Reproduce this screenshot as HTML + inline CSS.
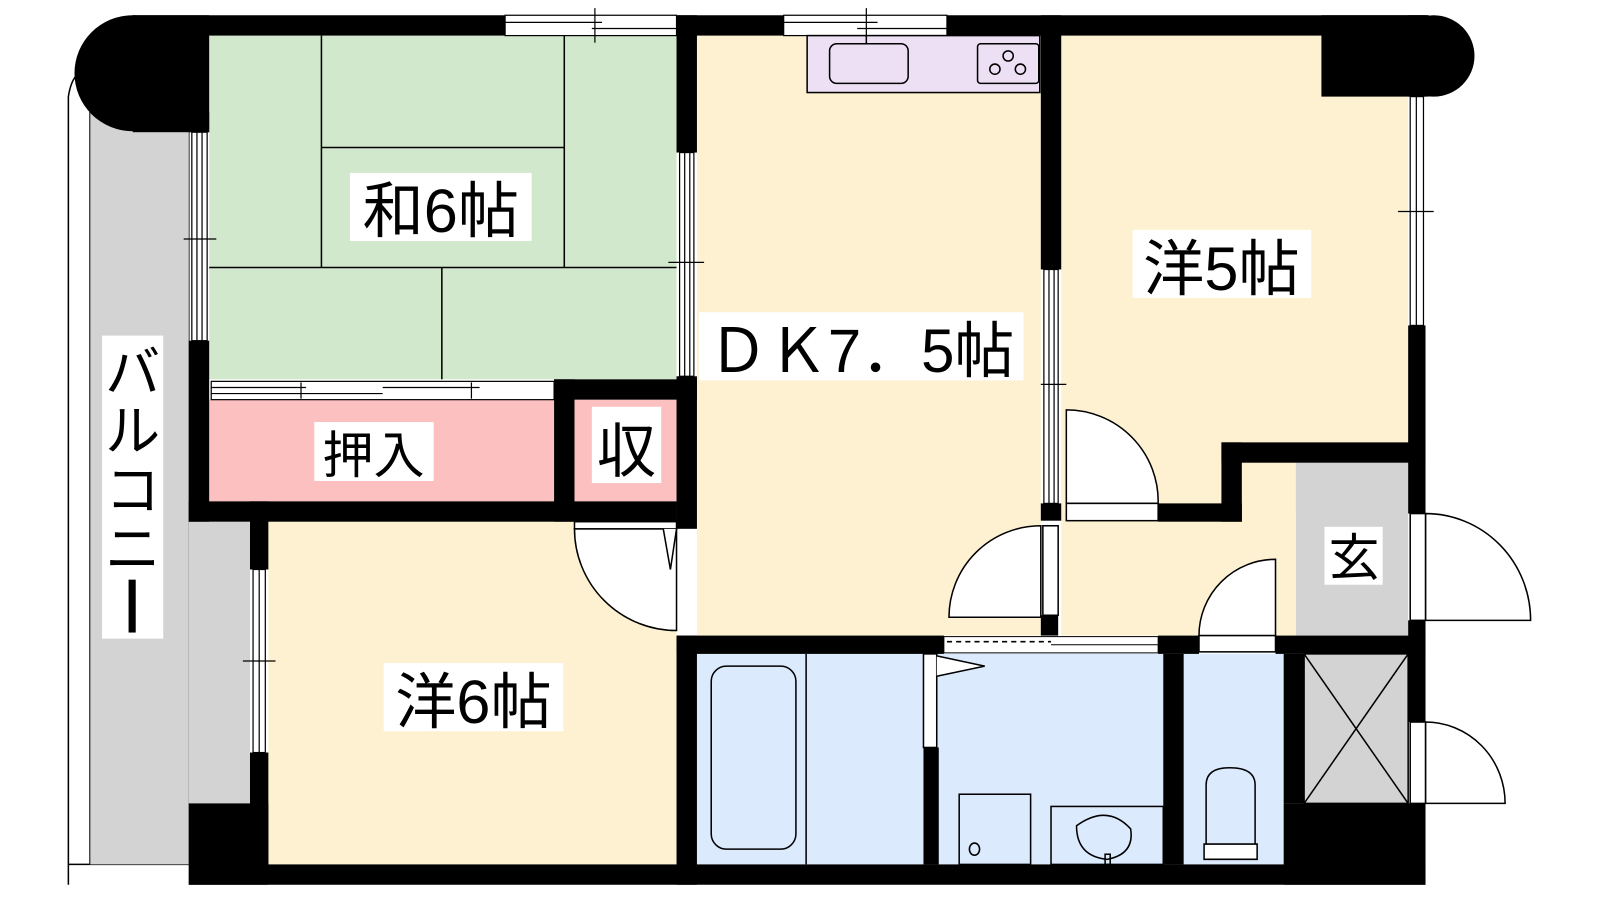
<!DOCTYPE html>
<html><head><meta charset="utf-8"><style>
html,body{margin:0;padding:0;background:#fff;width:1600px;height:900px;overflow:hidden}
svg{display:block}
text{font-family:"Liberation Sans","Noto Sans CJK JP",sans-serif;fill:#000}
</style></head><body>
<svg width="1600" height="900" viewBox="0 0 1568 885" preserveAspectRatio="none" xmlns="http://www.w3.org/2000/svg">
<g stroke="none">
<!-- balcony -->
<path d="M67,870 L67,95 Q70,75 80,70 L185,70 L185,850 L67,850 Z" fill="#fff" stroke="#000" stroke-width="1.5"/>
<rect x="88" y="110" width="97" height="740" fill="#d3d3d3"/>
<rect x="185" y="513" width="60" height="277" fill="#d3d3d3"/>
<line x1="88" y1="110" x2="88" y2="850" stroke="#000" stroke-width="1"/>
<!-- rooms -->
<rect x="205" y="35" width="458" height="338" fill="#d2e8cc"/>
<rect x="205" y="393" width="338" height="100" fill="#fdc0c0"/>
<rect x="563" y="393" width="100" height="100" fill="#fdc0c0"/>
<rect x="263" y="513" width="400" height="337" fill="#fdf1d1"/>
<rect x="683" y="35" width="337" height="590" fill="#fdf1d1"/>
<rect x="1040" y="35" width="340" height="470" fill="#fdf1d1"/>
<rect x="1040" y="455" width="230" height="170" fill="#fdf1d1"/>
<rect x="1270" y="455" width="110" height="170" fill="#d3d3d3"/>
<rect x="683" y="643" width="222" height="207" fill="#dbeafd"/>
<rect x="905" y="643" width="235" height="207" fill="#dbeafd"/>
<rect x="1160" y="643" width="98" height="207" fill="#dbeafd"/>
<rect x="1278" y="643" width="102" height="147" fill="#d3d3d3"/>
</g>
<!-- tatami lines -->
<g stroke="#000" stroke-width="1.5" fill="none">
<line x1="315" y1="35" x2="315" y2="263"/><line x1="553" y1="35" x2="553" y2="263"/>
<line x1="315" y1="145" x2="553" y2="145"/><line x1="205" y1="263" x2="663" y2="263"/>
<line x1="433" y1="263" x2="433" y2="373"/>
</g>
<!-- walls -->
<g fill="#000">
<circle cx="130" cy="72" r="57"/>
<rect x="130" y="15" width="365" height="20"/>
<rect x="130" y="15" width="75" height="115"/>
<rect x="663" y="15" width="105" height="20"/>
<rect x="928" y="15" width="472" height="20"/>
<circle cx="1405" cy="55" r="40"/>
<rect x="1295" y="15" width="105" height="80"/>
<rect x="185" y="110" width="20" height="20"/>
<rect x="185" y="335" width="20" height="178"/>
<rect x="663" y="15" width="20" height="135"/>
<rect x="543" y="373" width="140" height="20"/>
<rect x="543" y="373" width="20" height="140"/>
<rect x="663" y="370" width="20" height="150"/>
<rect x="185" y="493" width="478" height="20"/>
<rect x="245" y="493" width="18" height="67"/>
<rect x="245" y="740" width="18" height="110"/>
<rect x="185" y="790" width="78" height="80"/>
<rect x="185" y="850" width="1212" height="20"/>
<rect x="1020" y="15" width="20" height="250"/>
<rect x="1020" y="495" width="20" height="17"/>
<rect x="1020" y="605" width="17" height="20"/>
<rect x="1135" y="495" width="82" height="18"/>
<rect x="1197" y="435" width="20" height="78"/>
<rect x="1197" y="435" width="200" height="20"/>
<rect x="1380" y="15" width="17" height="80"/>
<rect x="1380" y="320" width="17" height="185"/>
<rect x="1380" y="610" width="17" height="100"/>
<rect x="1258" y="790" width="139" height="80"/>
<rect x="663" y="625" width="262" height="18"/>
<rect x="1135" y="625" width="40" height="18"/>
<rect x="1250" y="625" width="147" height="18"/>
<rect x="663" y="625" width="20" height="245"/>
<rect x="905" y="735" width="15" height="115"/>
<rect x="1140" y="643" width="20" height="207"/>
<rect x="1258" y="643" width="20" height="147"/>
</g>
<!-- windows -->
<g fill="#fff" stroke="#000" stroke-width="1.2">
<rect x="495" y="15" width="168" height="20"/><line x1="495" y1="22" x2="590" y2="22"/><line x1="580" y1="28" x2="663" y2="28"/><line x1="583" y1="8" x2="583" y2="42"/>
<rect x="768" y="15" width="160" height="20"/><line x1="768" y1="22" x2="860" y2="22"/><line x1="840" y1="28" x2="928" y2="28"/><line x1="849" y1="8" x2="849" y2="42"/>
<rect x="188" y="130" width="15" height="205"/><line x1="193" y1="130" x2="193" y2="335"/><line x1="198" y1="130" x2="198" y2="335"/><line x1="180" y1="235" x2="212" y2="235"/>
<rect x="666" y="150" width="14" height="220"/><line x1="671" y1="150" x2="671" y2="370"/><line x1="676" y1="150" x2="676" y2="370"/><line x1="655" y1="258" x2="690" y2="258"/>
<rect x="207" y="375" width="336" height="18"/><line x1="207" y1="381" x2="300" y2="381"/><line x1="207" y1="387" x2="375" y2="387"/><line x1="375" y1="381" x2="470" y2="381"/><line x1="295" y1="376" x2="295" y2="392"/><line x1="462" y1="376" x2="462" y2="392"/>
<rect x="248" y="560" width="12" height="180"/><line x1="254" y1="560" x2="254" y2="740"/><line x1="238" y1="650" x2="270" y2="650"/>
<rect x="1023" y="265" width="14" height="230"/><line x1="1028" y1="265" x2="1028" y2="495"/><line x1="1033" y1="265" x2="1033" y2="495"/><line x1="1020" y1="378" x2="1045" y2="378"/>
<rect x="1382" y="95" width="13" height="225"/><line x1="1388" y1="95" x2="1388" y2="320"/><line x1="1370" y1="208" x2="1405" y2="208"/>
</g>
<!-- sliding door to wash -->
<rect x="925" y="626" width="210" height="16" fill="#fff" stroke="#000" stroke-width="1"/>
<line x1="928" y1="631" x2="1030" y2="631" stroke="#000" stroke-width="1.5" stroke-dasharray="5,4"/>
<line x1="1030" y1="634" x2="1135" y2="634" stroke="#000" stroke-width="1"/>
<!-- doors -->
<g fill="#fff" stroke="#000" stroke-width="1.5">
<path d="M663,520 L563,520 A100,100 0 0 0 663,620 Z"/>
<rect x="563" y="513" width="100" height="7"/>
<path d="M650,520 L657,560 L663,520" />
<path d="M1045,495 L1045,403 A90,90 0 0 1 1135,495 Z"/>
<rect x="1045" y="495" width="90" height="17"/>
<path d="M1020,607 L930,607 A90,90 0 0 1 1020,517 Z"/>
<rect x="1022" y="517" width="15" height="88"/>
<path d="M1250,625 L1175,625 A75,75 0 0 1 1250,550 Z"/>
<rect x="1175" y="625" width="75" height="16"/>
<path d="M1397,505 A103,105 0 0 1 1500,610 L1397,610 Z"/>
<rect x="1382" y="505" width="15" height="105"/>
<path d="M1397,710 A78,80 0 0 1 1475,790 L1397,790 Z"/>
<rect x="1382" y="710" width="15" height="80"/>
<rect x="905" y="643" width="13" height="92"/>
<path d="M918,645 L965,655 L918,665"/>
</g>
<!-- kitchen -->
<g stroke="#000" stroke-width="1.5" fill="#ede0f5">
<rect x="791" y="35" width="228" height="56"/>
<rect x="813" y="43" width="77" height="39" rx="7"/>
<rect x="958" y="43" width="60" height="39" rx="3"/>
<circle cx="988" cy="55" r="5"/><circle cx="975" cy="68" r="5"/><circle cx="1000" cy="68" r="5"/>
</g>
<line x1="849" y1="35" x2="849" y2="43" stroke="#000" stroke-width="1.5"/>
<!-- bath fixtures -->
<g stroke="#000" stroke-width="1.5" fill="none">
<rect x="697" y="655" width="83" height="180" rx="15"/>
<line x1="790" y1="643" x2="790" y2="850"/>
<rect x="940" y="781" width="70" height="69"/>
<ellipse cx="955" cy="835" rx="5" ry="6"/>
<rect x="1030" y="793" width="110" height="57"/>
<path d="M1055,812 Q1085,790 1108,815 Q1112,840 1085,845 Q1055,842 1055,812 Z"/>
<rect x="1083" y="840" width="5" height="10"/>
<path d="M1182,830 L1182,772 Q1182,755 1205,755 Q1230,755 1230,772 L1230,830"/>
<path d="M1180,830 L1232,830 L1232,845 L1180,845 Z" fill="#fff"/>
<rect x="1278" y="643" width="102" height="147"/>
<line x1="1278" y1="643" x2="1380" y2="790"/><line x1="1380" y1="643" x2="1278" y2="790"/>
</g>
<!-- labels -->
<g>
<rect x="343" y="170" width="178" height="67" fill="#fff"/>
<text x="432" y="228" font-size="60" text-anchor="middle">和6帖</text>
<rect x="685" y="307" width="318" height="67" fill="#fff"/>
<text x="844" y="366" font-size="60" text-anchor="middle" textLength="300" lengthAdjust="spacingAndGlyphs">ＤＫ7．5帖</text>
<rect x="1110" y="226" width="175" height="67" fill="#fff"/>
<text x="1197" y="285" font-size="60" text-anchor="middle">洋5帖</text>
<rect x="308" y="415" width="117" height="58" fill="#fff"/>
<text x="366" y="465" font-size="50" text-anchor="middle">押入</text>
<rect x="580" y="400" width="68" height="75" fill="#fff"/>
<text x="614" y="464" font-size="58" text-anchor="middle">収</text>
<rect x="376" y="652" width="176" height="67" fill="#fff"/>
<text x="464" y="711" font-size="60" text-anchor="middle">洋6帖</text>
<rect x="1298" y="518" width="57" height="57" fill="#fff"/>
<text x="1327" y="566" font-size="50" text-anchor="middle">玄</text>
<rect x="100" y="330" width="60" height="298" fill="#fff"/>
<text x="130" y="385" font-size="54" text-anchor="middle">バ</text>
<text x="130" y="443" font-size="54" text-anchor="middle">ル</text>
<text x="130" y="501" font-size="54" text-anchor="middle">コ</text>
<text x="130" y="559" font-size="54" text-anchor="middle">ニ</text>
<rect x="126" y="570" width="7" height="52" fill="#000"/>
</g>
</svg>
</body></html>
